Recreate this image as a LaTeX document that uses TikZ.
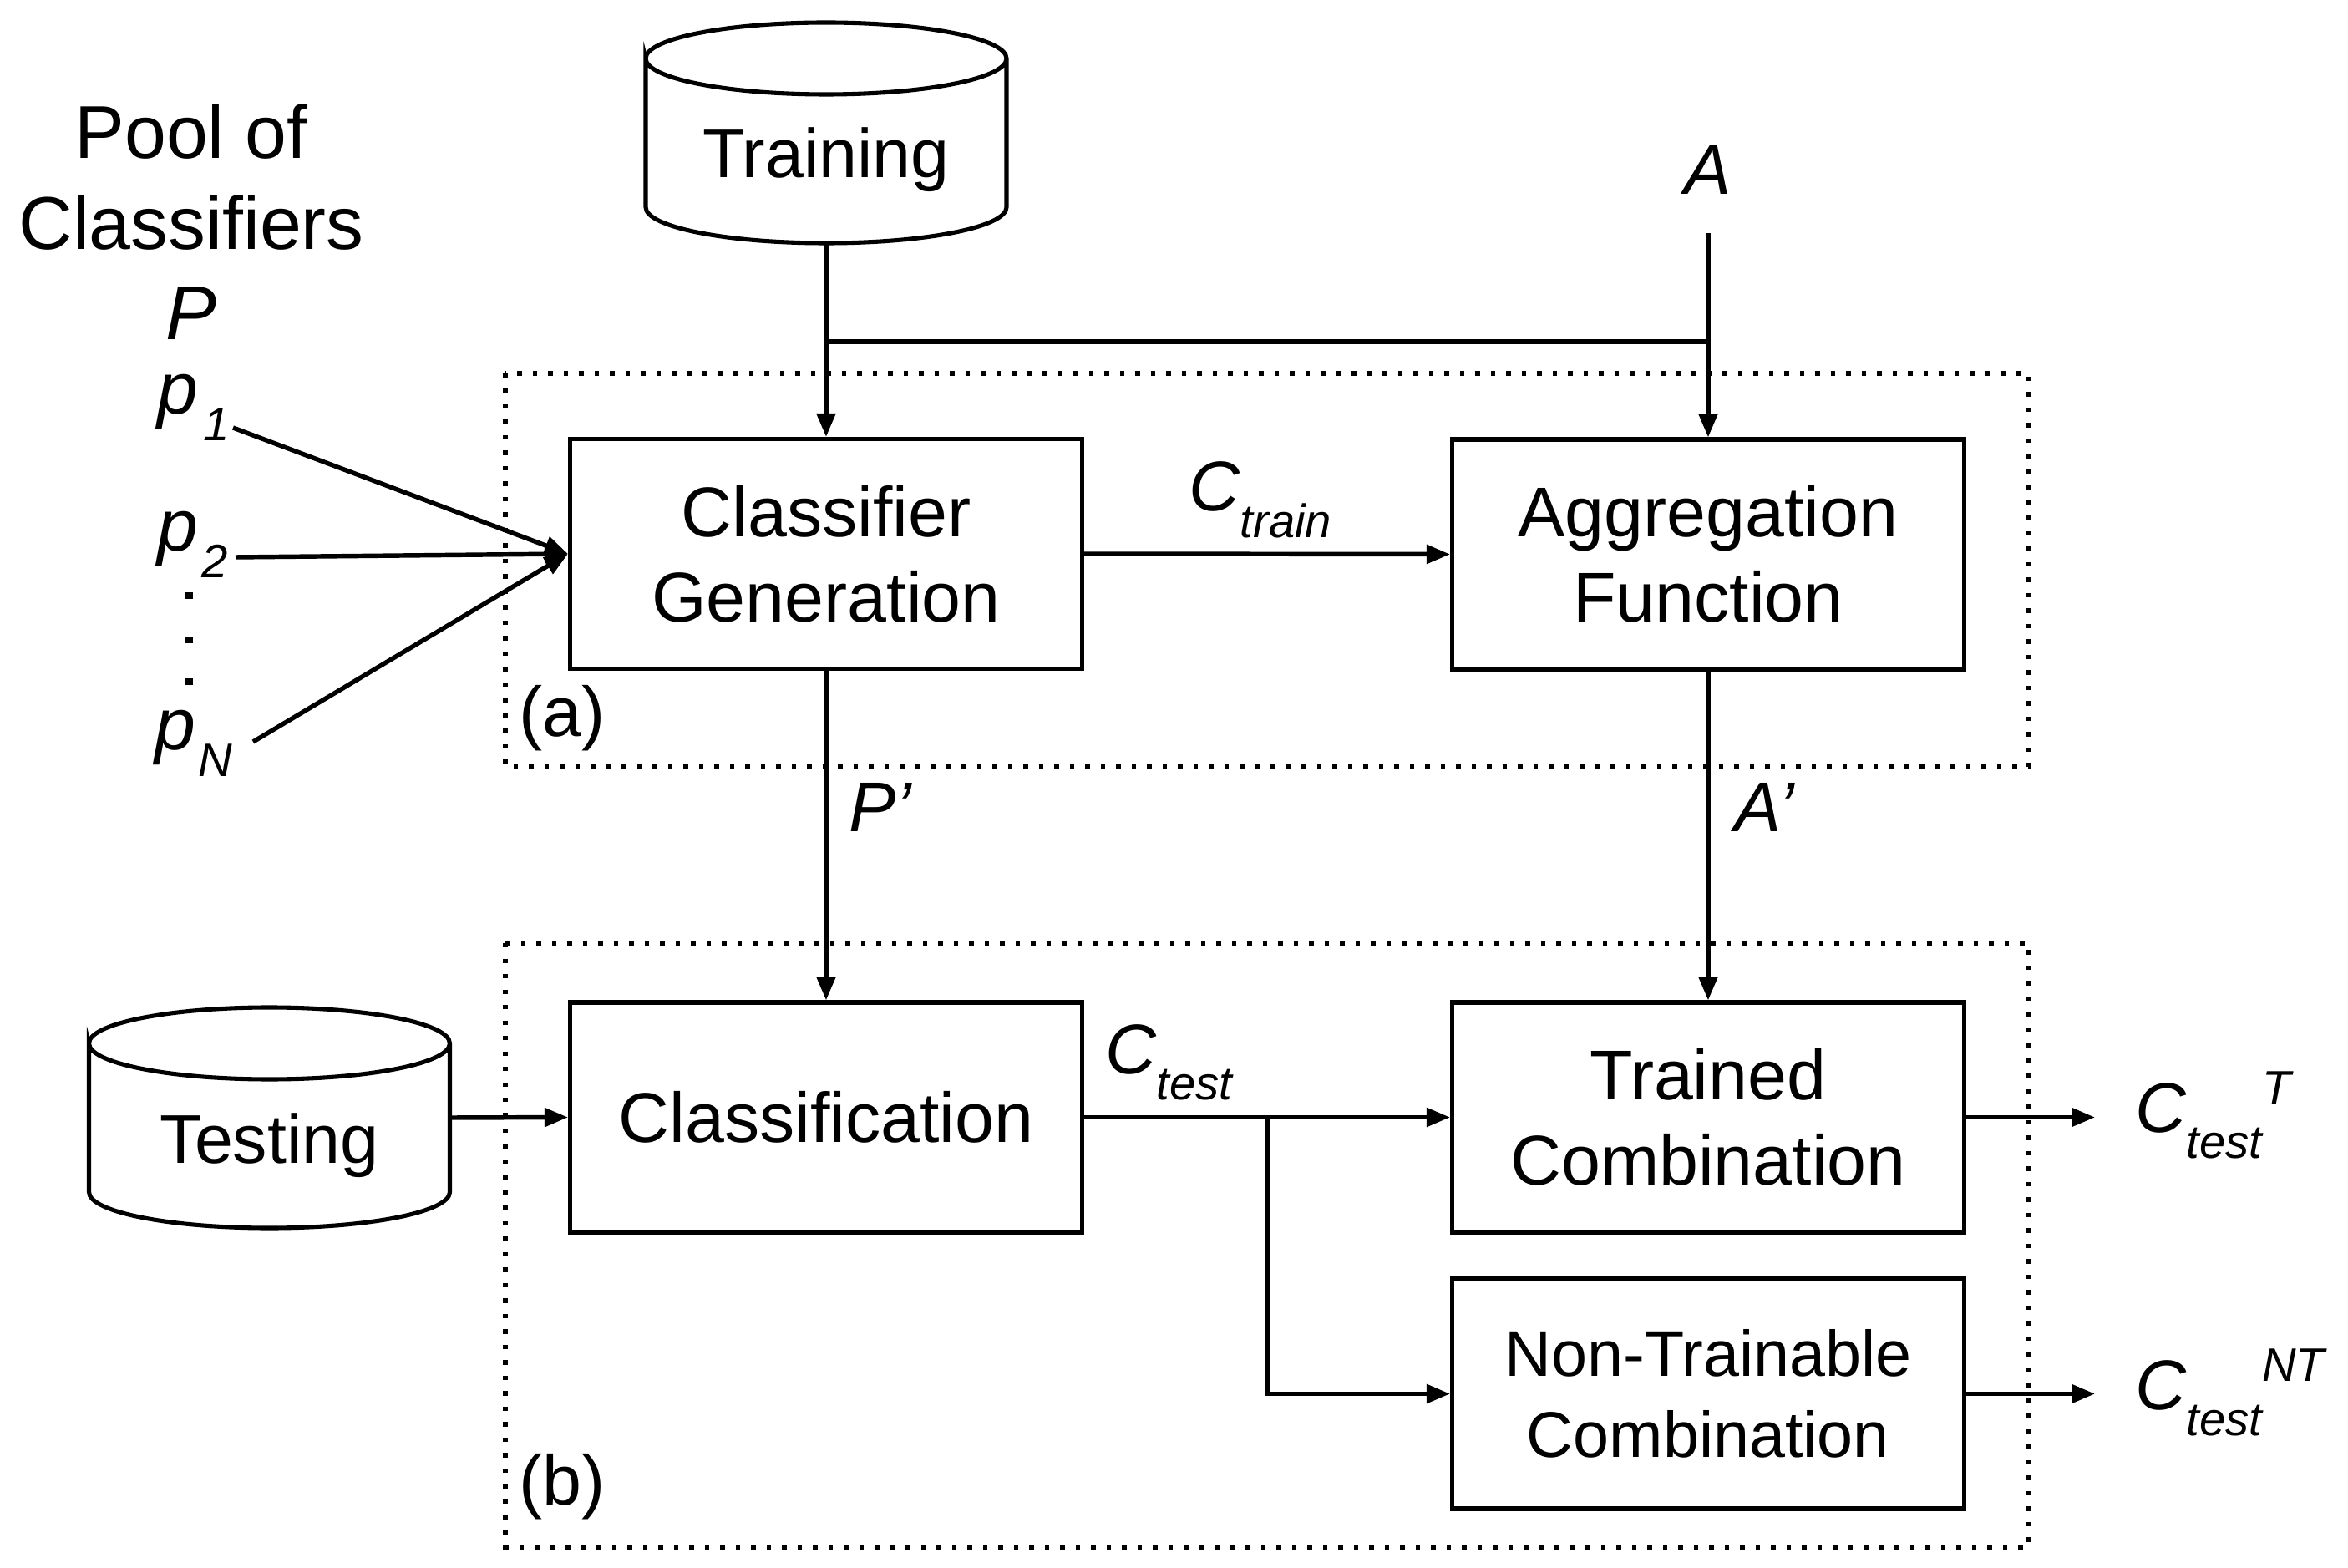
\documentclass[tikz,border=0pt]{standalone}
\usepackage{fontspec}
\setmainfont{Liberation Sans}
\usetikzlibrary{arrows.meta}
\newcommand{\lowtxt}[1]{\raisebox{-0.315cm}{\fontsize{16}{19}\selectfont #1}}
\newcommand{\hightxt}[1]{\raisebox{0.335cm}{\fontsize{16}{19}\selectfont #1}}

\begin{document}
\begin{tikzpicture}[line width=1.55pt,
        >={Triangle[length=0.28cm,width=0.22cm]},
        block/.style={draw, line width=1.45pt, minimum width=6.13cm, minimum height=2.75cm, inner sep=0, align=center, font=\fontsize{24}{29}\selectfont},%blocs de traitement
        dbase/.style={minimum width=4.32cm, inner sep=0, outer sep=0, text height=1.86cm, text depth=0.78cm, font=\fontsize{23.5}{28}\selectfont},%bases de donnees
        zone/.style={line width=1.5pt, dash pattern=on 0.053cm off 0.132cm},%cadres (a) et (b)
        lab/.style={inner sep=0, font=\fontsize{24}{29}\selectfont\itshape}]%etiquettes en italique
    \useasboundingbox (0,0) rectangle (28.11,-18.77);

    \node (trn) at (9.89,-1.59) [dbase] {Training};
    \node (tst) at (3.225,-13.38) [dbase] {Testing};
    \foreach \c in {trn,tst}
        \draw[line width=1.45pt] ([yshift=-0.43cm]\c.north west) arc[start angle=180,end angle=0,x radius=2.16cm,y radius=0.43cm]
            arc[start angle=0,end angle=-180,x radius=2.16cm,y radius=0.43cm]
            -- ([yshift=0.43cm]\c.south west)
            arc[start angle=180,end angle=360,x radius=2.16cm,y radius=0.43cm]
            -- ([yshift=-0.43cm]\c.north east);

    \node (gen) at (9.89,-6.63) [block] {Classifier\\Generation};
    \node (agg) at (20.45,-6.635) [block] {Aggregation\\Function};
    \node (cls) at (9.89,-13.375) [block] {Classification};
    \node (tc) at (20.45,-13.375) [block] {Trained\\Combination};
    \node (ntc) at (20.45,-16.685) [block, font=\fontsize{22}{27.5}\selectfont] {Non-Trainable\\Combination};

    \node (pool) at (2.29,-1.22) [anchor=north, inner sep=0, align=center, font=\fontsize{25.5}{31}\selectfont] {Pool of\\Classifiers};
    \node (pset) at (2.29,-4.07) [lab, anchor=base, font=\fontsize{26}{31}\selectfont\itshape] {P};
    \node (p1) at (1.86,-4.96) [lab, anchor=base west, font=\fontsize{25}{30}\selectfont\itshape] {p\kern0.06cm\lowtxt{1}};
    \node (p2) at (1.86,-6.60) [lab, anchor=base west, font=\fontsize{25}{30}\selectfont\itshape] {p\kern0.04cm\lowtxt{2}};
    \node (pN) at (1.83,-8.98) [lab, anchor=base west, font=\fontsize{25}{30}\selectfont\itshape] {p\kern0.03cm\lowtxt{N}};
    \foreach \y in {7.13,7.66,8.16}
        \fill (2.265,-\y) +(-0.043,-0.043) rectangle +(0.043,0.043);
    \coordinate (p1o) at (2.79,-5.12);
    \coordinate (p2o) at (2.82,-6.67);
    \coordinate (pNo) at (3.03,-8.88);
    \foreach \s in {p1o,p2o,pNo}
        \draw[->] (\s) -- (gen.west);

    \node (alab) at (20.45,-2.33) [lab, anchor=base] {A};
    \coordinate (ain) at (20.45,-2.79);
    \coordinate (jtr) at (9.89,-4.09);
    \draw[->] (trn.south) -- (gen.north);
    \draw[->] (ain) -- (agg.north);
    \draw (jtr) -- (jtr -| ain);

    \draw[->] (gen.east) -- (agg.west);
    \node (ctrain) at (14.21,-6.12) [lab, anchor=base west] {C\lowtxt{train}};
    \draw[->] (gen.south) -- (cls.north);
    \node (pprime) at (10.14,-9.96) [lab, anchor=base west] {P’};
    \draw[->] (agg.south) -- (tc.north);
    \node (aprime) at (20.74,-9.96) [lab, anchor=base west] {A’};

    \draw[->] (tst.east) -- (cls.west);
    \draw[->] (cls.east) -- (tc.west);
    \node (ctest) at (13.21,-12.85) [lab, anchor=base west] {C\lowtxt{test}};
    \coordinate (jts) at (15.17,-13.375);
    \draw[->] (jts) |- (ntc.west);

    \coordinate (outt) at (25.08,-13.375);
    \coordinate (outnt) at (25.08,-16.685);
    \draw[->] (tc.east) -- (outt);
    \draw[->] (ntc.east) -- (outnt);
    \node (ctt) at (25.54,-13.55) [lab, anchor=base west] {C\lowtxt{test}\hightxt{T}};
    \node (ctnt) at (25.54,-16.87) [lab, anchor=base west] {C\lowtxt{test}\hightxt{NT}};

    \draw[zone] (6.05,-4.47) rectangle (24.285,-9.18);
    \draw[zone] (6.05,-11.29) rectangle (24.285,-18.52);
    \node (za) at (6.19,-8.82) [anchor=base west, inner sep=0, font=\fontsize{24}{29}\selectfont] {(a)};
    \node (zb) at (6.19,-18.01) [anchor=base west, inner sep=0, font=\fontsize{24}{29}\selectfont] {(b)};
\end{tikzpicture}
\end{document}
